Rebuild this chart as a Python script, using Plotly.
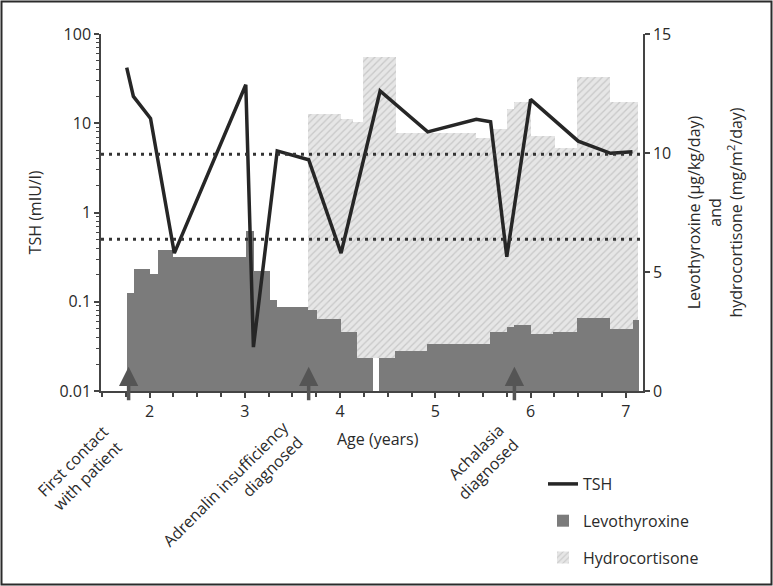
import plotly.graph_objects as go

# ---- Data ----
tsh_age = [1.76, 1.83, 2.01, 2.26, 3.01, 3.09, 3.34, 3.67, 4.01, 4.42, 4.92, 5.43, 5.58, 5.75, 6.00, 6.50, 6.84, 7.07]
tsh_val = [42, 20, 11.3, 0.35, 27, 0.031, 4.9, 3.9, 0.35, 23, 8.0, 11.1, 10.4, 0.32, 18.5, 6.3, 4.6, 4.8]

levo_start = [1.761, 1.837, 2.005, 2.092, 2.25, 3.01, 3.097, 3.264, 3.335, 3.666, 3.761, 4.006, 4.174,
              4.411, 4.576, 4.915, 5.573, 5.748, 5.825, 6.006, 6.237, 6.489, 6.832, 7.077]
levo_end = [1.837, 2.005, 2.092, 2.25, 3.01, 3.097, 3.264, 3.335, 3.666, 3.761, 4.006, 4.174, 4.348,
            4.576, 4.915, 5.573, 5.748, 5.825, 6.006, 6.237, 6.489, 6.832, 7.077, 7.14]
levo_dose = [4.13, 5.11, 4.92, 5.92, 5.62, 6.74, 5.04, 3.82, 3.52, 3.40, 3.01, 2.48, 1.39,
             1.39, 1.68, 1.97, 2.46, 2.67, 2.79, 2.38, 2.46, 3.08, 2.59, 2.98]

hc_start = [3.666, 4.006, 4.139, 4.244, 4.587, 5.426, 5.573, 5.748, 5.825, 6.0, 6.255, 6.489, 6.832]
hc_end = [4.006, 4.139, 4.244, 4.587, 5.426, 5.573, 5.748, 5.825, 6.0, 6.255, 6.489, 6.832, 7.13]
hc_dose = [11.63, 11.43, 11.32, 14.02, 10.83, 10.62, 11.0, 11.84, 12.14, 10.71, 10.2, 13.18, 12.14]

# interruption of treatment (blank strip)
gap_start = [4.348]
gap_end = [4.411]
gap_height = [1.39]

tsh_ref_range = [0.5, 4.5]
event_age = [1.78, 3.67, 5.83]

x_ticks = [2, 3, 4, 5, 6, 7]
tsh_ticks = [0.01, 0.1, 1, 10, 100]
tsh_ticktext = ["0.01", "0.1", "1", "10", "100"]
tsh_minor = [m * d for d in [0.01, 0.1, 1, 10] for m in range(2, 10)]
dose_ticks = [0, 5, 10, 15]


def centers(s, e):
    return [(a + b) / 2 for a, b in zip(s, e)]


def widths(s, e):
    return [b - a for a, b in zip(s, e)]


FONT = "Open Sans"
FS = 16
TXT = "#2a2a2a"
AX = "#444444"

fig = go.Figure()

fig.add_trace(go.Bar(
    x=centers(hc_start, hc_end), y=hc_dose, width=widths(hc_start, hc_end),
    name="Hydrocortisone", yaxis="y", legendrank=3, legendgroup="c",
    marker=dict(color="#e4e4e4", line=dict(width=0),
                pattern=dict(shape="/", fgcolor="#c8c8c8", bgcolor="#e6e6e6", size=5, solidity=0.25)),
))
fig.add_trace(go.Bar(
    x=centers(gap_start, gap_end), y=gap_height, width=widths(gap_start, gap_end),
    showlegend=False, yaxis="y", marker=dict(color="white", line=dict(width=0)), hoverinfo="skip",
))
fig.add_trace(go.Bar(
    x=centers(levo_start, levo_end), y=levo_dose, width=widths(levo_start, levo_end),
    name="Levothyroxine", yaxis="y", legendrank=2, legendgroup="b",
    marker=dict(color="#7b7b7b", line=dict(width=0)),
))
fig.add_trace(go.Scatter(
    x=tsh_age, y=tsh_val, mode="lines", name="TSH", yaxis="y2", legendrank=1, legendgroup="a",
    line=dict(color="#262626", width=3.5),
))

# plot area in pixels: left 101, right 643, top 34, bottom 391
W, H = 542.0, 357.0


def px_x(p):
    return (p - 101) / W


def px_y(p):
    return (391 - p) / H


shapes = []
for v in tsh_ref_range:
    shapes.append(dict(type="line", xref="paper", x0=0, x1=1, yref="y2", y0=v, y1=v,
                       line=dict(color="#333333", width=3, dash="3px,5px"), layer="above"))
shapes.append(dict(type="rect", xref="paper", yref="paper",
                   x0=px_x(1.5), x1=px_x(771.5), y0=px_y(584.5), y1=px_y(1.5),
                   line=dict(color="#2b2b2b", width=2), fillcolor="rgba(0,0,0,0)", layer="below"))

annotations = []
for a in event_age:
    annotations.append(dict(x=a, y=1.02, xref="x", yref="y", text="", showarrow=True,
                            ax=0, ay=35, axref="pixel", ayref="pixel",
                            arrowhead=2, arrowsize=1.1, arrowwidth=3.5, arrowcolor="#555555", standoff=0))

lab_font = dict(family=FONT, size=FS, color=TXT)
annotations += [
    dict(text="First contact<br>with patient", x=px_x(80), y=px_y(468), xref="paper", yref="paper",
         textangle=-45, showarrow=False, align="center", xanchor="center", yanchor="middle", font=lab_font),
    dict(text="Adrenalin insufficiency<br>diagnosed", x=px_x(233), y=px_y(492), xref="paper", yref="paper",
         textangle=-45, showarrow=False, align="right", xanchor="center", yanchor="middle", font=lab_font),
    dict(text="Achalasia<br>diagnosed", x=px_x(480), y=px_y(462), xref="paper", yref="paper",
         textangle=-45, showarrow=False, align="right", xanchor="center", yanchor="middle", font=lab_font),
    dict(text="Age (years)", x=px_x(378), y=px_y(439), xref="paper", yref="paper",
         showarrow=False, xanchor="center", yanchor="middle", font=lab_font),
]

fig.update_layout(
    template="none",
    width=773, height=586,
    margin=dict(l=101, r=130, t=34, b=195, pad=0, autoexpand=False),
    paper_bgcolor="white", plot_bgcolor="white",
    barmode="overlay", bargap=0,
    font=dict(family=FONT, size=FS, color=TXT),
    showlegend=True,
    legend=dict(x=px_x(543), y=px_y(467), xanchor="left", yanchor="top",
                tracegroupgap=13, font=dict(family=FONT, size=FS, color=TXT),
                bgcolor="rgba(0,0,0,0)", itemwidth=30),
    xaxis=dict(range=[1.49, 7.18], tickvals=x_ticks, ticks="outside", ticklen=5, tickwidth=1.5,
               automargin=False,
               tickcolor=AX, showline=True, linecolor=AX, linewidth=1.5, showgrid=False, zeroline=False,
               tickfont=dict(family=FONT, size=FS, color=TXT),
               minor=dict(dtick=0.25, ticks="outside", ticklen=4, tickwidth=1.5, tickcolor=AX, showgrid=False)),
    yaxis=dict(side="right", range=[0, 15], tickvals=dose_ticks, ticks="outside", ticklen=5, tickwidth=1.5,
               automargin=False,
               tickcolor=AX, showline=True, linecolor=AX, linewidth=1.5, showgrid=False, zeroline=False,
               tickfont=dict(family=FONT, size=FS, color=TXT),
               title=dict(text="Levothyroxine (µg/kg/day)<br>and<br>hydrocortisone (mg/m<sup>2</sup>/day)",
                          font=dict(family=FONT, size=FS, color=TXT), standoff=19)),
    yaxis2=dict(type="log", range=[-2, 2], overlaying="y", side="left", anchor="x",
                automargin=False,
                tickvals=tsh_ticks, ticktext=tsh_ticktext, ticks="outside", ticklen=5, tickwidth=1.5,
                tickcolor=AX, showline=True, linecolor=AX, linewidth=1.5, showgrid=False, zeroline=False,
                tickfont=dict(family=FONT, size=FS, color=TXT),
                minor=dict(tickvals=tsh_minor, ticks="outside", ticklen=3, tickwidth=1, tickcolor=AX,
                           showgrid=False),
                title=dict(text="TSH (mIU/l)", font=dict(family=FONT, size=FS, color=TXT), standoff=14)),
    shapes=shapes,
    annotations=annotations,
)

fig.write_html("out.html", config={"displayModeBar": False},
               post_script="document.body.style.margin='0';document.body.style.padding='0';")
